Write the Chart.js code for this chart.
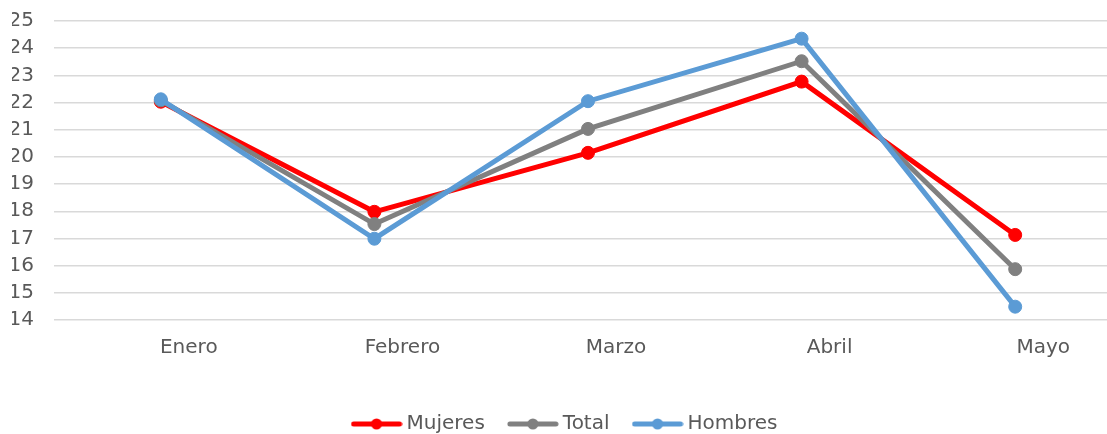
<!DOCTYPE html>
<html>
<head>
<meta charset="utf-8">
<script src="https://cdn.jsdelivr.net/npm/chart.js@4/dist/chart.umd.min.js"></script>
<style>
  html, body { margin: 0; padding: 0; background: #fff; overflow: hidden; }
  .wrap { width: 1134px; height: 434px; }
</style>
</head>
<body>
<div class="wrap"><canvas id="chart"></canvas></div>
<script>
const months = ['Enero', 'Febrero', 'Marzo', 'Abril', 'Mayo'];
const mujeres = [22.03, 17.98, 20.15, 22.77, 17.13];
const total = [22.08, 17.53, 21.03, 23.52, 15.87];
const hombres = [22.12, 16.99, 22.05, 24.35, 14.49];
const yTicks = [14, 15, 16, 17, 18, 19, 20, 21, 22, 23, 24, 25];

const textColor = '#595959';
const font = { family: 'DejaVu Sans', size: 20 };

// legend marker: line with a dot in the middle
function legendMarker(color) {
    const c = document.createElement('canvas');
    c.width = 52;
    c.height = 14;
    const g = c.getContext('2d');
    g.strokeStyle = color;
    g.lineWidth = 5;
    g.lineCap = 'round';
    g.beginPath();
    g.moveTo(3, 7);
    g.lineTo(49, 7);
    g.stroke();
    g.fillStyle = color;
    g.beginPath();
    g.arc(26, 7, 5.5, 0, Math.PI * 2);
    g.fill();
    return c;
}

function series(label, data, color, order) {
    return {
        label: label,
        data: data,
        borderColor: color,
        backgroundColor: color,
        borderWidth: 5,
        pointRadius: 6.5,
        pointBorderWidth: 1,
        pointHoverRadius: 6.5,
        tension: 0,
        order: order,
        pointStyle: 'circle',
        legendMarker: legendMarker(color)
    };
}

new Chart(document.getElementById('chart'), {
    type: 'line',
    data: {
        labels: months,
        datasets: [
            series('Mujeres', mujeres, '#ff0000', 2),
            series('Total', total, '#808080', 1),
            series('Hombres', hombres, '#5b9bd5', 0)
        ]
    },
    options: {
        responsive: true,
        maintainAspectRatio: false,
        animation: false,
        layout: {
            padding: { top: 21, left: 12, right: 12, bottom: -10 }
        },
        scales: {
            x: {
                offset: true,
                grid: { display: false },
                border: { display: false },
                ticks: {
                    color: textColor,
                    font: font,
                    padding: 8,
                    labelOffset: 28,
                    autoSkip: false,
                    maxRotation: 0
                },
                afterFit: function (scale) { scale.height = 66; }
            },
            y: {
                min: 14,
                max: 25,
                afterBuildTicks: function (scale) {
                    scale.ticks = yTicks.map(v => ({ value: v }));
                },
                afterFit: function (scale) { scale.width = 42; },
                grid: {
                    color: '#d9d9d9',
                    lineWidth: 1.5,
                    drawTicks: true,
                    tickLength: 20,
                    tickColor: 'rgba(0,0,0,0)'
                },
                border: { display: false },
                ticks: { color: textColor, font: font, padding: 0, autoSkip: false }
            }
        },
        plugins: {
            legend: {
                position: 'bottom',
                labels: {
                    color: textColor,
                    font: font,
                    usePointStyle: true,
                    pointStyleWidth: 40,
                    padding: 28,
                    generateLabels: function (chart) {
                        return chart.data.datasets.map((ds, i) => ({
                            text: ds.label,
                            fillStyle: ds.borderColor,
                            strokeStyle: ds.borderColor,
                            fontColor: textColor,
                            pointStyle: ds.legendMarker,
                            lineWidth: 0,
                            hidden: !chart.isDatasetVisible(i),
                            datasetIndex: i
                        }));
                    }
                }
            },
            tooltip: { enabled: false }
        }
    }
});
</script>
</body>
</html>
